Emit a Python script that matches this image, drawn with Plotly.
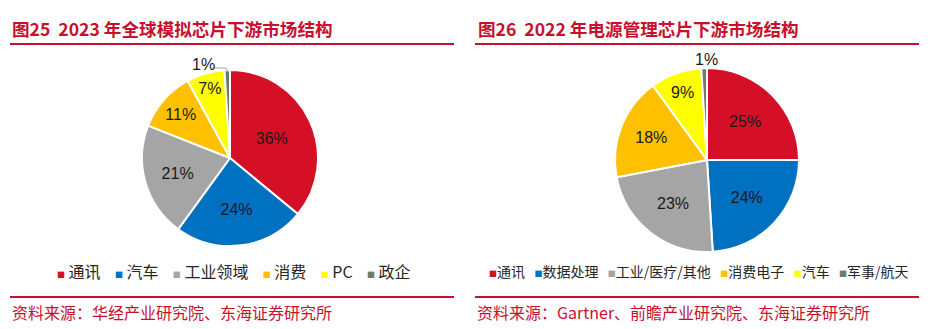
import plotly.graph_objects as go

W, H = 931, 329

# ---- data ----
left_title = "图25\u00a0\u00a02023 年全球模拟芯片下游市场结构"
left_source = "资料来源：华经产业研究院、东海证券研究所"
left_labels = ["通讯", "汽车", "工业领域", "消费", "PC", "政企"]
left_values = [36, 24, 21, 11, 7, 1]

right_title = "图26\u00a0\u00a02022 年电源管理芯片下游市场结构"
right_source = "资料来源：Gartner、前瞻产业研究院、东海证券研究所"
right_labels = ["通讯", "数据处理", "工业/医疗/其他", "消费电子", "汽车", "军事/航天"]
right_values = [25, 24, 23, 18, 9, 1]

colors = ["#D50F25", "#0070C0", "#A5A5A5", "#FFC000", "#FFFF00", "#6E7B6A"]

RED = "#C8102E"
FONT = "Noto Sans CJK SC, Arial, sans-serif"
NUMFONT = "Arial, Liberation Sans, sans-serif"


def px(x):
    return x / W


def py(y):
    return 1 - y / H


fig = go.Figure()


def add_pie(values, labels, cx, cy, r):
    texts = [f"{v}%" if v > 2 else "" for v in values]
    fig.add_trace(go.Pie(
        values=values, labels=labels, sort=False, direction="clockwise", rotation=0,
        marker=dict(colors=colors, line=dict(color="white", width=2)),
        text=texts, textinfo="text", textposition="inside",
        insidetextorientation="horizontal",
        insidetextfont=dict(family=NUMFONT, size=16, color="#1a1a1a"),
        domain=dict(x=[px(cx - r), px(cx + r)], y=[py(cy + r), py(cy - r)]),
        showlegend=False, hoverinfo="label+value",
    ))


add_pie(left_values, left_labels, 230, 158, 88)
add_pie(right_values, right_labels, 707, 160, 92)

annotations = []
shapes = []


def legend_text(labels, sep, gap):
    parts = []
    for lab, c in zip(labels, colors):
        parts.append(f"<span style='font-size:8px;color:{c}'>■</span>{gap}{lab}")
    return sep.join(parts)


# titles
for x0, title in [(10, left_title), (476, right_title)]:
    annotations.append(dict(x=px(x0), y=py(29), xref="paper", yref="paper", xanchor="left", yanchor="middle",
                            text=f"<b>{title}</b>", showarrow=False,
                            font=dict(family=FONT, size=17.6, color=RED)))
# title underlines and bottom lines
for x0, x1 in [(10, 454), (475, 919)]:
    for yy in (44, 297):
        shapes.append(dict(type="line", xref="paper", yref="paper", x0=px(x0), x1=px(x1), y0=py(yy), y1=py(yy),
                           line=dict(color=RED, width=2)))
# sources
for x0, src in [(10, left_source), (475, right_source)]:
    annotations.append(dict(x=px(x0), y=py(312), xref="paper", yref="paper", xanchor="left", yanchor="middle",
                            text=src, showarrow=False,
                            font=dict(family=FONT, size=16, color=RED)))
# legends
annotations.append(dict(x=px(234), y=py(271), xref="paper", yref="paper", xanchor="center", yanchor="middle",
                        text=legend_text(left_labels, "\u00a0\u00a0\u00a0\u00a0", "\u00a0"), showarrow=False,
                        font=dict(family=FONT, size=16, color="#262626")))
annotations.append(dict(x=px(699), y=py(271), xref="paper", yref="paper", xanchor="center", yanchor="middle",
                        text=legend_text(right_labels, "\u00a0\u00a0\u00a0", ""), showarrow=False,
                        font=dict(family=FONT, size=14, color="#262626")))

# small-slice labels (1%)
annotations.append(dict(x=px(203), y=py(64), xref="paper", yref="paper", xanchor="center", yanchor="middle",
                        text=f"{left_values[-1]}%", showarrow=False,
                        font=dict(family=NUMFONT, size=16, color="#1a1a1a")))
shapes.append(dict(type="line", xref="paper", yref="paper", x0=px(212), x1=px(226), y0=py(68), y1=py(68),
                   line=dict(color="#A5A5A5", width=1)))
shapes.append(dict(type="line", xref="paper", yref="paper", x0=px(226), x1=px(228), y0=py(68), y1=py(72),
                   line=dict(color="#A5A5A5", width=1)))
annotations.append(dict(x=px(706), y=py(59), xref="paper", yref="paper", xanchor="center", yanchor="middle",
                        text=f"{right_values[-1]}%", showarrow=False,
                        font=dict(family=NUMFONT, size=16, color="#1a1a1a")))

fig.update_layout(width=W, height=H, margin=dict(l=0, r=0, t=0, b=0),
                  paper_bgcolor="white", plot_bgcolor="white",
                  annotations=annotations, shapes=shapes)

fig.write_html("out.html")
